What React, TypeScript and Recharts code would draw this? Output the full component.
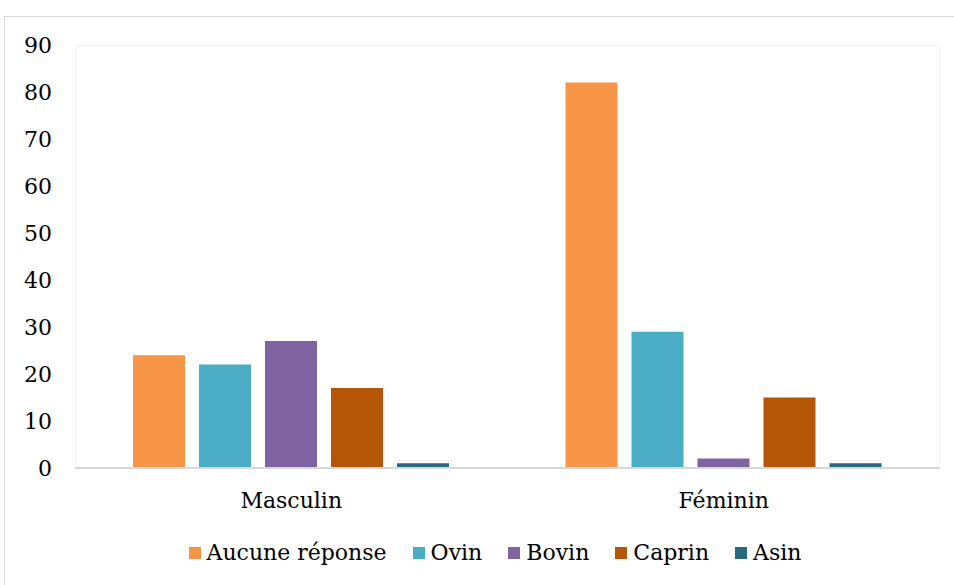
import React from 'react';
import { BarChart, Bar, XAxis, YAxis, Legend } from 'recharts';

const categories = ['Masculin', 'Féminin'];
const aucuneReponse = [24, 82];
const ovin = [22, 29];
const bovin = [27, 2];
const caprin = [17, 15];
const asin = [1, 1];
const yTicks = [0, 10, 20, 30, 40, 50, 60, 70, 80, 90];

const series = [
    { key: 'aucune', name: 'Aucune réponse', color: '#F79646' },
    { key: 'ovin', name: 'Ovin', color: '#4BACC6' },
    { key: 'bovin', name: 'Bovin', color: '#8064A2' },
    { key: 'caprin', name: 'Caprin', color: '#B65708' },
    { key: 'asin', name: 'Asin', color: '#276A7C' },
];

const data = categories.map((c, i) => ({
    name: c,
    aucune: aucuneReponse[i],
    ovin: ovin[i],
    bovin: bovin[i],
    caprin: caprin[i],
    asin: asin[i],
}));

// Liberation Serif isn't available here, DejaVu Serif is the closest serif
const font = 'DejaVu Serif';
const fs = 22;

const LegendContent = () => (
    <div style={{ display: 'flex', justifyContent: 'center', alignItems: 'center', paddingTop: 10, paddingLeft: 50, fontFamily: font, fontSize: fs, color: '#000' }}>
        {series.map((s) => (
            <div key={s.key} style={{ display: 'flex', alignItems: 'center', margin: '0 13px' }}>
                <span style={{ width: 12, height: 12, background: s.color, display: 'inline-block', marginRight: 6 }} />
                <span>{s.name}</span>
            </div>
        ))}
    </div>
);

export default function App() {
    return (
        <div style={{ position: 'absolute', left: 0, top: 0, width: 954, height: 585, background: '#fff', overflow: 'hidden', fontFamily: font }}>
            <div style={{ position: 'absolute', left: 4, top: 16, width: 970, height: 600, border: '1px solid #d9d9d9' }} />
            <div style={{ position: 'absolute', left: 75, top: 45, width: 865, height: 423, border: '1px solid #f2f2f2', boxSizing: 'border-box' }} />
            <div style={{ position: 'absolute', left: 0, top: 0 }}>
                <BarChart
                    width={954}
                    height={585}
                    data={data}
                    margin={{ top: 45, right: 14, left: 0, bottom: 0 }}
                    barCategoryGap={58}
                    barGap={14}
                >
                    <XAxis
                        dataKey="name"
                        axisLine={{ stroke: '#d9d9d9', strokeWidth: 2 }}
                        tickLine={false}
                        tickMargin={18}
                        height={62}
                        tick={{ fontFamily: font, fontSize: fs, fill: '#000' }}
                    />
                    <YAxis
                        domain={[0, 90]}
                        ticks={yTicks}
                        width={75}
                        axisLine={false}
                        tickLine={false}
                        tickMargin={17}
                        tick={{ fontFamily: font, fontSize: fs, fill: '#000' }}
                    />
                    <Legend verticalAlign="bottom" height={55} content={<LegendContent />} />
                    {series.map((s) => (
                        <Bar key={s.key} dataKey={s.key} name={s.name} fill={s.color} isAnimationActive={false} />
                    ))}
                </BarChart>
            </div>
        </div>
    );
}
